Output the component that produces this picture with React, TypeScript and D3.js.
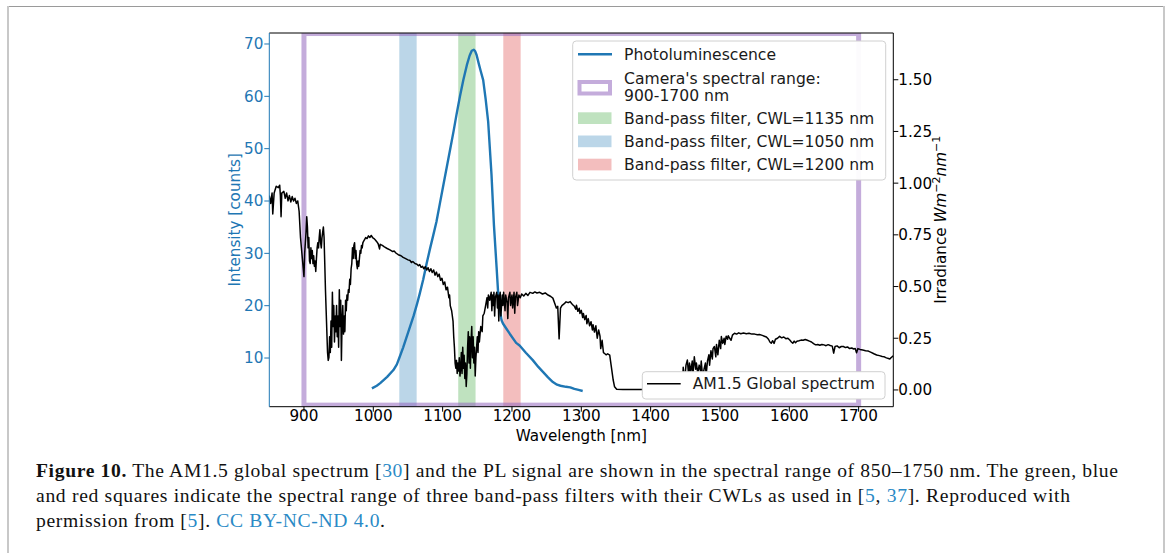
import React from 'react';
import * as d3 from 'd3';

// AM1.5 global spectrum: [wavelength nm, irradiance W m^-2 nm^-1] (right axis)
const amSpectrum: [number, number][] = [
  [850, 0.94], [852, 0.902], [854, 0.952], [855, 0.851], [857, 0.952], [860, 0.985], [863, 0.978], [865, 0.99],
  [866, 0.94], [867, 0.838], [868, 0.952], [871, 0.96], [873, 0.927], [875, 0.952], [877, 0.914], [879, 0.94],
  [881, 0.909], [883, 0.935], [885, 0.914], [887, 0.927], [889, 0.902], [891, 0.914], [893, 0.864], [895, 0.737],
  [897, 0.661], [899, 0.586], [900, 0.548], [901, 0.661], [903, 0.763], [904, 0.838], [905, 0.788], [906, 0.687],
  [907, 0.737], [908, 0.623], [909, 0.611], [910, 0.687], [911, 0.636], [912, 0.674], [913, 0.611], [914, 0.649],
  [915, 0.598], [916, 0.623], [917, 0.573], [918, 0.636], [919, 0.687], [920, 0.712], [921, 0.687], [922, 0.737],
  [923, 0.775], [924, 0.712], [925, 0.687], [926, 0.737], [927, 0.763], [928, 0.788], [929, 0.737], [930, 0.611],
  [931, 0.484], [932, 0.383], [933, 0.282], [934, 0.181], [935, 0.143], [936, 0.156], [937, 0.257], [938, 0.181],
  [939, 0.333], [940, 0.206], [941, 0.472], [942, 0.307], [943, 0.408], [944, 0.232], [945, 0.358], [946, 0.282],
  [947, 0.408], [948, 0.257], [949, 0.358], [950, 0.206], [951, 0.484], [952, 0.307], [953, 0.434], [954, 0.143],
  [955, 0.333], [956, 0.408], [957, 0.27], [958, 0.358], [959, 0.282], [960, 0.434], [961, 0.383], [962, 0.459],
  [963, 0.434], [964, 0.484], [965, 0.472], [966, 0.535], [967, 0.51], [968, 0.586], [969, 0.611], [970, 0.687],
  [971, 0.636], [972, 0.699], [973, 0.712], [974, 0.636], [975, 0.674], [976, 0.611], [977, 0.586], [978, 0.623],
  [979, 0.598], [980, 0.636], [981, 0.674], [982, 0.661], [983, 0.699], [984, 0.687], [985, 0.712], [987, 0.725],
  [989, 0.737], [991, 0.732], [993, 0.745], [995, 0.737], [997, 0.747], [999, 0.737], [1001, 0.732], [1003, 0.725],
  [1005, 0.717], [1007, 0.707], [1009, 0.682], [1010, 0.704], [1013, 0.699], [1016, 0.692], [1020, 0.684],
  [1024, 0.677], [1028, 0.669], [1030, 0.672], [1033, 0.661], [1036, 0.654], [1040, 0.649], [1043, 0.641],
  [1046, 0.636], [1050, 0.629], [1053, 0.626], [1055, 0.616], [1057, 0.621], [1060, 0.611], [1063, 0.608],
  [1065, 0.601], [1067, 0.606], [1069, 0.593], [1071, 0.598], [1073, 0.586], [1075, 0.596], [1077, 0.58],
  [1079, 0.591], [1081, 0.573], [1083, 0.586], [1085, 0.568], [1087, 0.58], [1089, 0.555], [1091, 0.57],
  [1093, 0.548], [1095, 0.56], [1097, 0.53], [1099, 0.54], [1101, 0.51], [1103, 0.522], [1105, 0.484],
  [1107, 0.497], [1109, 0.446], [1110, 0.459], [1111, 0.408], [1113, 0.383], [1115, 0.333], [1116, 0.257],
  [1117, 0.206], [1118, 0.13], [1119, 0.105], [1120, 0.143], [1121, 0.08], [1122, 0.13], [1123, 0.092],
  [1124, 0.156], [1125, 0.067], [1126, 0.105], [1127, 0.181], [1128, 0.08], [1129, 0.206], [1130, 0.105],
  [1131, 0.168], [1132, 0.055], [1133, 0.13], [1134, 0.017], [1135, 0.08], [1136, 0.206], [1137, 0.282],
  [1138, 0.13], [1139, 0.257], [1140, 0.105], [1141, 0.232], [1142, 0.307], [1143, 0.156], [1144, 0.257],
  [1145, 0.13], [1146, 0.206], [1147, 0.067], [1148, 0.156], [1149, 0.206], [1150, 0.257], [1151, 0.181],
  [1152, 0.282], [1153, 0.232], [1155, 0.307], [1157, 0.282], [1158, 0.358], [1160, 0.371], [1162, 0.408],
  [1164, 0.446], [1165, 0.396], [1166, 0.459], [1168, 0.434], [1170, 0.472], [1171, 0.383], [1172, 0.459],
  [1173, 0.408], [1174, 0.472], [1175, 0.358], [1176, 0.446], [1178, 0.472], [1179, 0.396], [1180, 0.459],
  [1181, 0.333], [1182, 0.446], [1183, 0.472], [1184, 0.358], [1186, 0.459], [1187, 0.408], [1188, 0.472],
  [1190, 0.383], [1191, 0.459], [1193, 0.421], [1194, 0.345], [1195, 0.446], [1197, 0.472], [1198, 0.408],
  [1200, 0.459], [1201, 0.396], [1203, 0.472], [1204, 0.371], [1205, 0.446], [1207, 0.472], [1208, 0.408],
  [1210, 0.459], [1212, 0.446], [1214, 0.464], [1217, 0.454], [1220, 0.467], [1223, 0.457], [1226, 0.472],
  [1230, 0.467], [1233, 0.474], [1236, 0.469], [1240, 0.472], [1244, 0.464], [1248, 0.469], [1252, 0.459],
  [1256, 0.452], [1259, 0.444], [1262, 0.416], [1264, 0.396], [1266, 0.404], [1268, 0.247], [1270, 0.396],
  [1272, 0.408], [1275, 0.416], [1278, 0.426], [1281, 0.422], [1284, 0.427], [1286, 0.418], [1288, 0.411],
  [1290, 0.405], [1292, 0.39], [1293, 0.41], [1295, 0.38], [1297, 0.395], [1298, 0.37], [1300, 0.385],
  [1302, 0.35], [1303, 0.37], [1305, 0.34], [1307, 0.36], [1308, 0.32], [1310, 0.345], [1312, 0.31],
  [1314, 0.33], [1316, 0.29], [1317, 0.315], [1319, 0.28], [1321, 0.31], [1323, 0.25], [1325, 0.29],
  [1327, 0.26], [1328, 0.2], [1330, 0.24], [1332, 0.18], [1334, 0.175], [1336, 0.17], [1338, 0.175],
  [1341, 0.168], [1343, 0.12], [1346, 0.048], [1348, 0.015], [1351, 0.003], [1360, 0.002], [1380, 0.002],
  [1400, 0.002], [1420, 0.003], [1440, 0.005], [1444, 0.06], [1446, 0.02], [1447, 0.11], [1449, 0.04],
  [1451, 0.12], [1453, 0.145], [1455, 0.06], [1456, 0.13], [1458, 0.09], [1460, 0.14], [1461, 0.07],
  [1463, 0.16], [1465, 0.1], [1466, 0.13], [1468, 0.08], [1470, 0.12], [1472, 0.09], [1473, 0.14],
  [1475, 0.06], [1477, 0.1], [1479, 0.13], [1480, 0.07], [1482, 0.14], [1484, 0.17], [1485, 0.12],
  [1487, 0.19], [1489, 0.15], [1490, 0.2], [1492, 0.21], [1494, 0.16], [1495, 0.22], [1497, 0.17],
  [1499, 0.24], [1501, 0.2], [1502, 0.258], [1504, 0.225], [1506, 0.25], [1507, 0.22], [1509, 0.26],
  [1511, 0.245], [1512, 0.262], [1514, 0.25], [1516, 0.24], [1518, 0.265], [1521, 0.274], [1524, 0.27],
  [1527, 0.276], [1530, 0.272], [1534, 0.275], [1538, 0.272], [1542, 0.274], [1546, 0.27], [1550, 0.27],
  [1554, 0.267], [1557, 0.268], [1561, 0.264], [1564, 0.26], [1567, 0.256], [1570, 0.245], [1572, 0.232],
  [1574, 0.226], [1576, 0.238], [1578, 0.225], [1580, 0.245], [1583, 0.25], [1586, 0.259], [1589, 0.252],
  [1592, 0.256], [1595, 0.248], [1598, 0.25], [1601, 0.24], [1603, 0.232], [1605, 0.226], [1607, 0.236],
  [1609, 0.228], [1611, 0.236], [1614, 0.238], [1617, 0.241], [1620, 0.24], [1623, 0.244], [1626, 0.24],
  [1629, 0.236], [1632, 0.232], [1635, 0.224], [1638, 0.218], [1641, 0.22], [1644, 0.216], [1647, 0.22],
  [1650, 0.218], [1653, 0.214], [1656, 0.219], [1659, 0.215], [1662, 0.212], [1664, 0.178], [1666, 0.21],
  [1669, 0.213], [1672, 0.204], [1675, 0.21], [1678, 0.21], [1681, 0.205], [1684, 0.208], [1687, 0.2],
  [1690, 0.203], [1693, 0.198], [1695, 0.2], [1697, 0.18], [1699, 0.2], [1702, 0.196], [1706, 0.193],
  [1710, 0.19], [1714, 0.188], [1718, 0.182], [1722, 0.175], [1726, 0.169], [1730, 0.166], [1734, 0.162],
  [1737, 0.16], [1740, 0.155], [1743, 0.152], [1745, 0.15], [1747, 0.157], [1750, 0.165],
];

// Photoluminescence: [wavelength nm, intensity counts] (left axis)
const plSignal: [number, number][] = [
  [998, 4.2], [1005, 4.7], [1010, 5.2], [1020, 6.4], [1029, 7.7], [1034, 8.8], [1038, 10.2], [1043, 12.0],
  [1048, 14.0], [1053, 16.0], [1058, 18.0], [1063, 20.3], [1067, 22.3], [1072, 25.0], [1077, 28.1],
  [1082, 31.0], [1086, 33.2], [1091, 36.0], [1096, 39.5], [1101, 43.0], [1106, 46.5], [1111, 50.0],
  [1116, 53.5], [1120, 56.5], [1125, 60.0], [1130, 63.2], [1135, 66.0], [1139, 67.8], [1142, 68.7],
  [1145, 68.9], [1147, 68.6], [1149, 67.9], [1152, 66.3], [1155, 64.8], [1158.5, 63.1], [1162, 59.5],
  [1165.7, 55.1], [1170.5, 45.0], [1174, 35.4], [1177.8, 27.4], [1180, 22.6], [1182.6, 19.1], [1185, 17.2],
  [1187, 16.6], [1192, 15.6], [1197, 14.6], [1206, 12.9], [1211, 12.4], [1220, 11.0], [1230, 9.6],
  [1238, 8.3], [1245, 7.3], [1252, 6.3], [1259, 5.4], [1265, 4.9], [1270, 4.7], [1278, 4.5], [1284, 4.4],
  [1290, 4.1], [1296, 3.9], [1302, 3.7],
];

const xTicks = [900, 1000, 1100, 1200, 1300, 1400, 1500, 1600, 1700];
const leftTicks = [10, 20, 30, 40, 50, 60, 70];
const rightTicks = [0, 0.25, 0.5, 0.75, 1.0, 1.25, 1.5];
const cameraRange = [900, 1700];
const bandWidth = 25;
const bands = [
  { label: 'Band-pass filter, CWL=1135 nm', cwl: 1135, color: '#2ca02c' },
  { label: 'Band-pass filter, CWL=1050 nm', cwl: 1050, color: '#1f77b4' },
  { label: 'Band-pass filter, CWL=1200 nm', cwl: 1200, color: '#d62728' },
];

const W = 1168, H = 553;
const L = 269.3, R = 893.3, T = 33, B = 406.7;
const BLUE = '#1f77b4';
const PURPLE = '#9467bd';
const FONT = 'DejaVu Sans, sans-serif';
const TICKFS = 15.2;
const LEGFS = 15.6;

export default function App() {
  const x = d3.scaleLinear().domain([850, 1750]).range([L, R]);
  const yL = d3.scaleLinear().domain([0.7, 72.1]).range([B, T]);
  const yR = d3.scaleLinear().domain([-0.081, 1.726]).range([B, T]);

  const amLine = d3.line<[number, number]>().x(d => x(d[0])).y(d => yR(d[1]));
  const plLine = d3.line<[number, number]>().x(d => x(d[0])).y(d => yL(d[1]));

  const capFont = 'Liberation Serif, Times New Roman, serif';
  const link = '#2a8ac6';

  return (
    <div style={{ position: 'absolute', left: 0, top: 0 }}>
      <svg width={W} height={H} viewBox={`0 0 ${W} ${H}`} style={{ display: 'block', background: '#fff' }}>
        <defs>
          <clipPath id="plotclip">
            <rect x={L} y={T} width={R - L} height={B - T} />
          </clipPath>
        </defs>
        {/* page frame */}
        <line x1={7} x2={1164} y1={6.5} y2={6.5} stroke="#9a9a9a" strokeWidth={1.2} />
        <rect x={7} y={6} width={2} height={H - 6} fill="#c8c8c8" />
        <rect x={1163} y={6} width={2} height={H - 6} fill="#c8c8c8" />

        <g clipPath="url(#plotclip)">
          {bands.map(b => (
            <rect key={b.cwl} x={x(b.cwl - bandWidth / 2)} y={T} width={x(b.cwl + bandWidth / 2) - x(b.cwl - bandWidth / 2)}
              height={B - T} fill={b.color} fillOpacity={0.3} />
          ))}
          <rect x={x(cameraRange[0])} y={yL(72)} width={x(cameraRange[1]) - x(cameraRange[0])} height={yL(1.0) - yL(72)}
            fill="none" stroke={PURPLE} strokeOpacity={0.55} strokeWidth={5} />
          <path d={plLine(plSignal) || ''} fill="none" stroke={BLUE} strokeWidth={2.4} strokeLinejoin="round" />
        </g>

        {/* legend 1 */}
        <g fontFamily={FONT} fontSize={LEGFS} fill="#1a1a1a">
          <rect x={572.7} y={41} width={313} height={139} rx={3.5} fill="#fff" fillOpacity={0.95} stroke="#d0d0d0" strokeWidth={1} />
          <line x1={578} x2={612} y1={54.3} y2={54.3} stroke={BLUE} strokeWidth={2.4} />
          <text x={624} y={54.3} dy="0.36em">Photoluminescence</text>
          <rect x={579.5} y={82} width={30.5} height={11.5} fill="none" stroke={PURPLE} strokeOpacity={0.55} strokeWidth={4} />
          <text x={624} y={78.3} dy="0.36em">Camera's spectral range:</text>
          <text x={624} y={95} dy="0.36em">900-1700 nm</text>
          {bands.map((b, i) => (
            <g key={b.cwl}>
              <rect x={578} y={112.3 + i * 23.2} width={33.5} height={11.7} fill={b.color} fillOpacity={0.3} />
              <text x={624} y={118.3 + i * 23.2} dy="0.36em">{b.label}</text>
            </g>
          ))}
        </g>

        {/* AM1.5 line (twin axis, drawn on top) */}
        <g clipPath="url(#plotclip)">
          <path d={amLine(amSpectrum) || ''} fill="none" stroke="#000" strokeWidth={1.5} strokeLinejoin="round" />
        </g>

        {/* legend 2 */}
        <g fontFamily={FONT} fontSize={LEGFS} fill="#1a1a1a">
          <rect x={642.3} y={371.7} width={242.7} height={27.3} rx={3.5} fill="#fff" stroke="#d0d0d0" strokeWidth={1} />
          <line x1={647} x2={680.7} y1={383.7} y2={383.7} stroke="#000" strokeWidth={1.5} />
          <text x={692.7} y={383.7} dy="0.36em">AM1.5 Global spectrum</text>
        </g>

        {/* spines */}
        <line x1={L} x2={R} y1={T} y2={T} stroke="#000" strokeWidth={1} />
        <line x1={L} x2={R} y1={B} y2={B} stroke="#000" strokeWidth={1} />
        <line x1={R} x2={R} y1={T} y2={B} stroke="#000" strokeWidth={1} />
        <line x1={L} x2={L} y1={T} y2={B} stroke={BLUE} strokeWidth={1} />

        {/* bottom axis */}
        <g fontFamily={FONT} fontSize={TICKFS} fill="#000">
          {xTicks.map(t => (
            <g key={t}>
              <line x1={x(t)} x2={x(t)} y1={B} y2={B + 5} stroke="#000" strokeWidth={1} />
              <text x={x(t)} y={421} textAnchor="middle">{t}</text>
            </g>
          ))}
          <text x={(L + R) / 2} y={441} textAnchor="middle">Wavelength [nm]</text>
        </g>

        {/* left axis */}
        <g fontFamily={FONT} fontSize={TICKFS} fill={BLUE}>
          {leftTicks.map(t => (
            <g key={t}>
              <line x1={L - 5} x2={L} y1={yL(t)} y2={yL(t)} stroke={BLUE} strokeWidth={1} />
              <text x={L - 6} y={yL(t)} dy="0.36em" textAnchor="end">{t}</text>
            </g>
          ))}
          <text transform={`translate(240,${(T + B) / 2}) rotate(-90)`} textAnchor="middle">Intensity [counts]</text>
        </g>

        {/* right axis */}
        <g fontFamily={FONT} fontSize={TICKFS} fill="#000">
          {rightTicks.map(t => (
            <g key={t}>
              <line x1={R} x2={R + 5} y1={yR(t)} y2={yR(t)} stroke="#000" strokeWidth={1} />
              <text x={R + 5} y={yR(t)} dy="0.36em">{t.toFixed(2)}</text>
            </g>
          ))}
          <text transform={`translate(946,${(T + B) / 2}) rotate(-90)`} textAnchor="middle">
            Irradiance <tspan fontStyle="italic">Wm</tspan>
            <tspan fontSize={11} dy={-6}>−2</tspan>
            <tspan fontStyle="italic" dy={6}>nm</tspan>
            <tspan fontSize={11} dy={-6}>−1</tspan>
          </text>
        </g>

        {/* caption */}
        <g fontFamily={capFont} fontSize={19.6} fill="#111">
          <text x={36} y={477} textLength={1082} lengthAdjust="spacing">
            <tspan fontWeight="bold">Figure 10.</tspan> The AM1.5 global spectrum [<tspan fill={link}>30</tspan>] and the PL signal are shown in the spectral range of 850–1750 nm. The green, blue
          </text>
          <text x={36} y={502} textLength={1034} lengthAdjust="spacing">
            and red squares indicate the spectral range of three band-pass filters with their CWLs as used in [<tspan fill={link}>5</tspan>, <tspan fill={link}>37</tspan>]. Reproduced with
          </text>
          <text x={36} y={527} textLength={349} lengthAdjust="spacing">
            permission from [<tspan fill={link}>5</tspan>]. <tspan fill={link}>CC BY-NC-ND 4.0</tspan>.
          </text>
        </g>
      </svg>
    </div>
  );
}
